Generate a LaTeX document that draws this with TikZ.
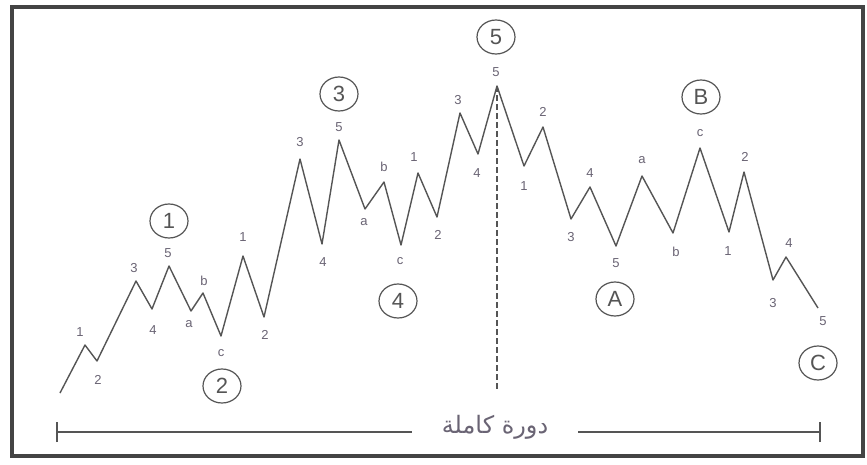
\documentclass[tikz,border=0pt]{standalone}
\usepackage{fontspec}
\setmainfont{Liberation Sans}
\newfontfamily\arabicfont[Script=Arabic]{DejaVu Sans}
\TeXXeTstate=1
\usetikzlibrary{shapes.geometric}
\definecolor{wave}{HTML}{555555}
\definecolor{tag}{HTML}{6A6474}
\tikzset{
  wavetag/.style={text=tag, font=\fontsize{13}{13}\selectfont, inner sep=0pt},
  degree/.style={ellipse, draw=wave, line width=1.2pt, minimum width=38pt,
    minimum height=34pt, inner sep=0pt, text=wave, font=\fontsize{22}{22}\selectfont},
  waveline/.style={wave, line width=1.4pt, line join=round}
}

\begin{document}
\begin{tikzpicture}[x=1pt,y=-1pt]
  \useasboundingbox (0,0) rectangle (867,464);
  \fill[white] (0,0) rectangle (867,464);
  \draw[wave!80!black, line width=4pt] (12,7) rectangle (863,456);

  % turning points of the wave and their counts
  \coordinate (p0) at (60,393);
  \foreach \i/\x/\y/\t/\lx/\ly in {
    1/85/345/1/80/332, 2/97/361/2/98/380, 3/136/281/3/134/268,
    4/152/309/4/153/330, 5/169/266/5/168/253, 6/191/311/a/189/324,
    7/203/293/b/204/281, 8/221/336/c/221/353, 9/243/256/1/243/237,
    10/264/317/2/265/335, 11/300/159/3/300/142, 12/322/244/4/323/262,
    13/339/140/5/339/127, 14/365/209/a/364/222, 15/384/182/b/384/167,
    16/401/245/c/400/261, 17/418/173/1/414/157, 18/437/217/2/438/235,
    19/460/113/3/458/100, 20/478/154/4/477/173, 21/497/86/5/496/72,
    22/524/166/1/524/186, 23/543/127/2/543/112, 24/571/219/3/571/237,
    25/590/187/4/590/173, 26/616/246/5/616/263, 27/642/176/a/642/160,
    28/673/233/b/676/252, 29/700/148/c/700/133, 30/729/232/1/728/251,
    31/744/172/2/745/157, 32/773/280/3/773/303, 33/786/257/4/789/243,
    34/818/308/5/823/321}{
    \coordinate (p\i) at (\x,\y);
    \node[wavetag] (t\i) at (\lx,\ly) {\t};
  }
  \draw[waveline] (p0) \foreach \i in {1,...,34}{ -- (p\i) };

  % top of the cycle
  \coordinate (peakfoot) at (497,390);
  \draw[wave, line width=1.2pt, dash pattern=on 6pt off 3pt] (p21) -- (peakfoot);

  % circled degrees
  \node[degree] (w1) at (169,221) {1};
  \node[degree] (w2) at (222,386) {2};
  \node[degree] (w3) at (339,94) {3};
  \node[degree] (w4) at (398,301) {4};
  \node[degree] (w5) at (496,37) {5};
  \node[degree] (wA) at (615,299) {A};
  \node[degree] (wB) at (701,97) {B};
  \node[degree] (wC) at (818,363) {C};

  % full cycle bar
  \coordinate (cycl) at (57,432);
  \coordinate (cycr) at (820,432);
  \node[text=tag, inner xsep=30pt, font=\fontsize{24}{24}\selectfont] (cycle) at (495,427)
    {\arabicfont\beginR دورة كاملة\endR};
  \draw[waveline] (cycl) -- (cycle.west |- cycl);
  \draw[waveline] (cycle.east |- cycr) -- (cycr);
  \draw[waveline] ([yshift=-10pt]cycl) -- ([yshift=10pt]cycl);
  \draw[waveline] ([yshift=-10pt]cycr) -- ([yshift=10pt]cycr);
\end{tikzpicture}
\end{document}
